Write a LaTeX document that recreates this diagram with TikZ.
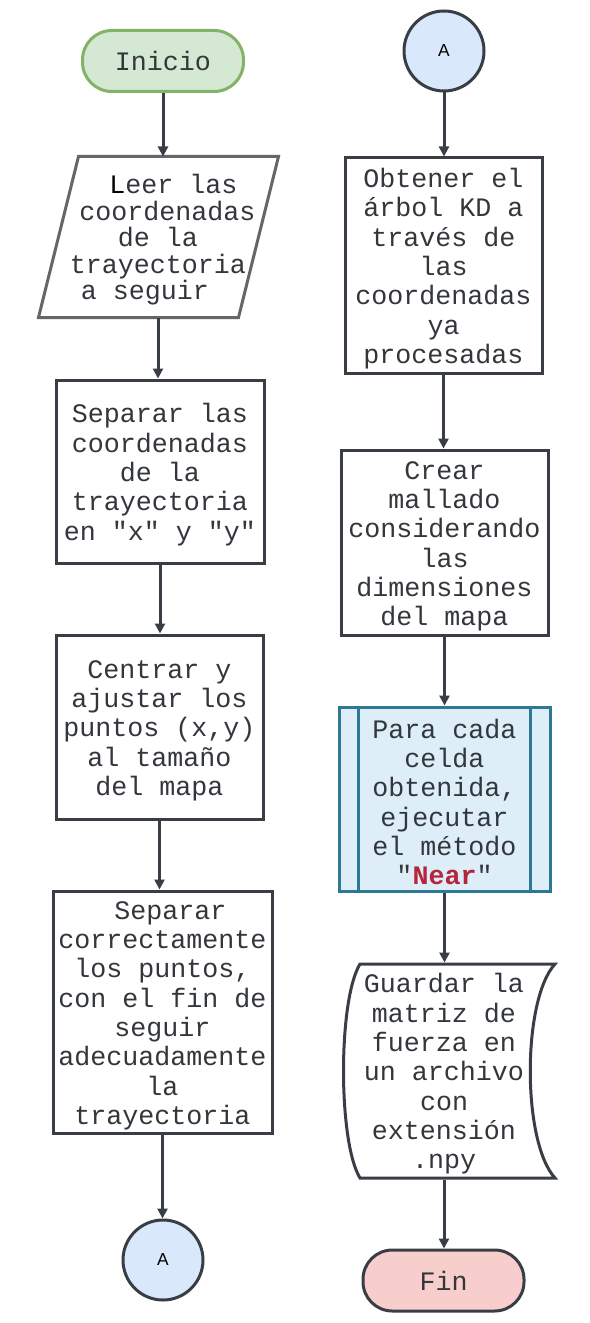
\documentclass[tikz,border=0pt]{standalone}
\usepackage{fontspec}
\setmonofont{Liberation Mono}
\setsansfont{Liberation Sans}
\usetikzlibrary{arrows.meta,calc}
\definecolor{dk}{HTML}{393E46}
\definecolor{tx}{HTML}{33373C}
\definecolor{gfill}{HTML}{D5E8D4}
\definecolor{gline}{HTML}{82B366}
\definecolor{bfill}{HTML}{DAE8FC}
\definecolor{pfill}{HTML}{DDEEF8}
\definecolor{pline}{HTML}{2E7896}
\definecolor{rfill}{HTML}{F8CECC}
\definecolor{nearred}{HTML}{B5263A}
\definecolor{pgline}{HTML}{666666}
\newcommand\topstrut{\rule{0pt}{19pt}}
\begin{document}
\begin{tikzpicture}[x=0.75pt,y=-0.75pt]
\useasboundingbox (0,0) rectangle (589,1323);
\fill[white] (0,0) rectangle (589,1323);
\tikzset{
  base/.style={font=\ttfamily\fontsize{20}{22}\selectfont, text=tx, align=center, inner sep=0pt, line width=2.25pt},
  proc/.style={base, rectangle, draw=dk, fill=white},
  term/.style={base, rectangle, rounded corners=22pt, minimum width=120.75pt, minimum height=45.75pt},
  conn/.style={circle, draw=dk, fill=bfill, line width=2.25pt, minimum size=60pt, inner sep=0pt, font=\sffamily\fontsize{13}{14}\selectfont, text=black},
  arr/.style={draw=dk, line width=2.25pt, -{Triangle[length=7.5pt,width=7.5pt]}},
  shp/.style={line width=2.25pt, line join=miter}
}
% left column
\node[term, draw=gline, fill=gfill] (ini) at (163,61) {Inicio};
\node[base, font=\ttfamily\fontsize{20}{19.9}\selectfont, minimum width=147.75pt, minimum height=118.5pt] (lee) at (158,237)
  {\topstrut\hspace*{23pt}{\color{black}L}eer las\\\hspace*{14pt}coordenadas\\de la\\trayectoria\hspace*{8pt}\\a seguir\hspace*{19.5pt}};
\draw[shp, draw=pgline] ($(lee.north west)+(20.5,0)$) -- ($(lee.north east)+(20.5,0)$)
  -- ($(lee.south east)+(-19.5,0)$) -- ($(lee.south west)+(-19.5,0)$) -- cycle;
\node[proc, minimum width=156pt, minimum height=137.25pt] (sep) at (160,471.5)
  {\topstrut Separar las\\coordenadas\\de la\\trayectoria\\en "x" y "y"};
\node[proc, minimum width=155.25pt, minimum height=138pt] (cen) at (159.5,727)
  {\topstrut Centrar y\\ajustar los\\puntos (x,y)\\al tamaño\\del mapa};
\node[proc, minimum width=164.25pt, minimum height=181.5pt] (sepb) at (162.5,1012)
  {\topstrut~Separar\\correctamente\\los puntos,\\con el fin de\\seguir\\adecuadamente\\la\\trayectoria};
\node[conn] (ca) at (163,1260) {A};
% right column
\node[conn] (cb) at (444,51) {A};
\node[proc, minimum width=147.75pt, minimum height=161.25pt] (obt) at (443.5,265.5)
  {\topstrut Obtener el\\árbol KD a\\través de\\las\\coordenadas\\ya\\procesadas};
\node[proc, minimum width=155.25pt, minimum height=138.75pt] (cre) at (444.5,542.5)
  {\topstrut Crear\\mallado\\considerando\\las\\dimensiones\\del mapa};
\node[proc, draw=pline, fill=pfill, minimum width=158.25pt, minimum height=138pt] (pp) at (444.5,799)
  {\topstrut Para cada\\celda\\obtenida,\\ejecutar\\el método\\"\textbf{\color{nearred}Near}"};
\draw[shp, draw=pline] ($(pp.north west)+(21,0)$) -- ($(pp.south west)+(21,0)$);
\draw[shp, draw=pline] ($(pp.north east)+(-21,0)$) -- ($(pp.south east)+(-21,0)$);
\fill[white] (360,964) -- (555,964) .. controls (522,1000) and (522,1142) .. (555,1178)
  -- (360,1178) .. controls (338,1142) and (338,1000) .. (360,964) -- cycle;
\draw[shp, draw=dk] (360,964) -- (555,964) .. controls (522,1000) and (522,1142) .. (555,1178)
  -- (360,1178) .. controls (338,1142) and (338,1000) .. (360,964) -- cycle;
\node[base, minimum width=150pt, minimum height=160.5pt] (doc) at (444,1071)
  {\topstrut Guardar la\\matriz de\\fuerza en\\un archivo\\con\\extensión\\.npy};
\node[term, draw=dk, fill=rfill] (fin) at (443.5,1280.5) {Fin};
% connectors
\draw[arr] (ini.south) -- (ini.south |- lee.north);
\draw[arr] (lee.south) -- (lee.south |- sep.north);
\draw[arr] (sep.south) -- (sep.south |- cen.north);
\draw[arr] (cen.south) -- (cen.south |- sepb.north);
\draw[arr] (sepb.south) -- (sepb.south |- ca.north);
\draw[arr] (cb.south) -- (cb.south |- obt.north);
\draw[arr] (obt.south) -- (obt.south |- cre.north);
\draw[arr] (cre.south) -- (cre.south |- pp.north);
\draw[arr] (pp.south) -- (pp.south |- doc.north);
\draw[arr] (doc.south) -- (doc.south |- fin.north);
\end{tikzpicture}
\end{document}
